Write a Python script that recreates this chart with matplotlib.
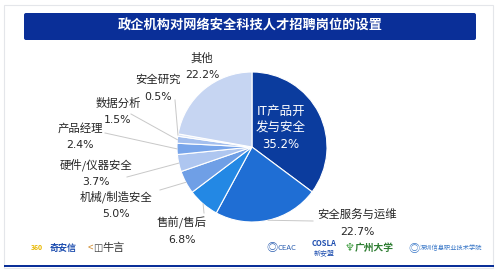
import numpy as np
import matplotlib.pyplot as plt
from matplotlib.patches import FancyBboxPatch, Rectangle

plt.rcParams['font.family'] = ['Noto Sans CJK SC', 'DejaVu Sans']

# data
title = "政企机构对网络安全科技人才招聘岗位的设置"
labels = ["IT产品开发与安全", "安全服务与运维", "售前/售后", "机械/制造安全",
          "硬件/仪器安全", "产品经理", "数据分析", "安全研究", "其他"]
values = [35.2, 22.7, 6.8, 5.0, 3.7, 2.4, 1.5, 0.5, 22.2]
colors = ["#0b3c9e", "#1f6ed4", "#2388e4", "#6f9fe6", "#aec6f0",
          "#78a5ea", "#a4bfee", "#dde6f8", "#c6d5f2"]

W, H = 498, 271
fig = plt.figure(figsize=(W / 100, H / 100), dpi=100)
ax = fig.add_axes([0, 0, 1, 1])


def Y(y):
    # pixel row from top -> data y
    return H - y


# outer frame and title bar
ax.add_patch(Rectangle((4, Y(268)), 489, 263, fill=False, ec="#e4e6ea", lw=0.8))
ax.add_patch(FancyBboxPatch((24, Y(40)), 452, 27, boxstyle="round,pad=0,rounding_size=2",
                            fc="#0a2f98", ec="none"))
ax.text(250, Y(26), title, color="white", fontsize=9.5, fontweight="bold",
        ha="center", va="center")

# pie
cx, cy, r = 252, 147, 75
wedges, _ = ax.pie(values, colors=colors, startangle=90, counterclock=False,
                   center=(cx, Y(cy)), radius=r, frame=True,
                   wedgeprops=dict(edgecolor="white", linewidth=0.8))
ax.set_xlim(0, W)
ax.set_ylim(0, H)
ax.set_aspect('equal')
ax.axis('off')

# label positions (pixel coords: x, y of name line)
pos = {
    "安全服务与运维": (357, 215),
    "售前/售后": (182, 223),
    "机械/制造安全": (116, 197),
    "硬件/仪器安全": (96, 165),
    "产品经理": (80, 128),
    "数据分析": (118, 103),
    "安全研究": (158, 80),
    "其他": (202, 58),
}
line_start = {
    "安全服务与运维": (313, 221),
    "售前/售后": (204, 213),
    "机械/制造安全": (160, 190),
    "硬件/仪器安全": (127, 177),
    "产品经理": (105, 133),
    "数据分析": (131, 114),
    "安全研究": (175, 100),
}

txt = dict(color="#262626", fontsize=8.2, ha="center", va="center")
num = dict(color="#262626", fontsize=7.8, ha="center", va="center", family="DejaVu Sans")

cum = np.cumsum([0] + values)
for i, (lab, v) in enumerate(zip(labels, values)):
    mid = (cum[i] + v / 2) / 100 * 2 * np.pi
    ex, ey = cx + r * np.sin(mid), cy - r * np.cos(mid)
    if i == 0:
        ax.text(281, Y(111), "IT产品开", color="white", fontsize=9, ha="center", va="center")
        ax.text(281, Y(128), "发与安全", color="white", fontsize=9, ha="center", va="center")
        ax.text(281, Y(145), f"{v:.1f}%", color="white", fontsize=8.5, ha="center",
                va="center", family="DejaVu Sans")
        continue
    tx, ty = pos[lab]
    ax.text(tx, Y(ty), lab, **txt)
    ax.text(tx, Y(ty + 17), f"{v:.1f}%", **num)
    if lab in line_start:
        sx, sy = line_start[lab]
        ax.plot([sx, ex], [Y(sy), Y(ey)], color="#c8c8c8", lw=0.7)

# footer logos (approximated as text)
ax.text(31, Y(248), "360", color="#e8b800", fontsize=5, fontweight="bold", va="center")
ax.text(50, Y(248), "奇安信", color="#1f4fb0", fontsize=6.5, fontweight="bold", va="center")
ax.text(88, Y(248), "<", color="#d08a2a", fontsize=7, va="center")
ax.text(93, Y(248), "◫", color="#444444", fontsize=7, va="center")
ax.text(102, Y(248), "牛言", color="#333333", fontsize=8, va="center")
ax.text(266, Y(248), "◎", color="#2a5db0", fontsize=8, va="center")
ax.text(278, Y(248), "CEAC", color="#2a5db0", fontsize=5.5, va="center")
ax.text(312, Y(244), "COSLA", color="#1f4fb0", fontsize=5.5, fontweight="bold", va="center")
ax.text(314, Y(253), "新安盟", color="#1f4fb0", fontsize=5, va="center")
ax.text(345, Y(248), "♆", color="#3a9a3a", fontsize=8, va="center")
ax.text(355, Y(248), "广州大学", color="#2e7d32", fontsize=7, fontweight="bold", va="center")
ax.text(408, Y(249), "◎", color="#3a78c8", fontsize=8, va="center")
ax.text(420, Y(248), "深圳信息职业技术学院", color="#3a78c8", fontsize=4.5, va="center")
ax.add_patch(Rectangle((4, Y(267)), 490, 2.5, fc="#0a2f98", ec="none"))

fig.savefig("out.png", dpi=100)
